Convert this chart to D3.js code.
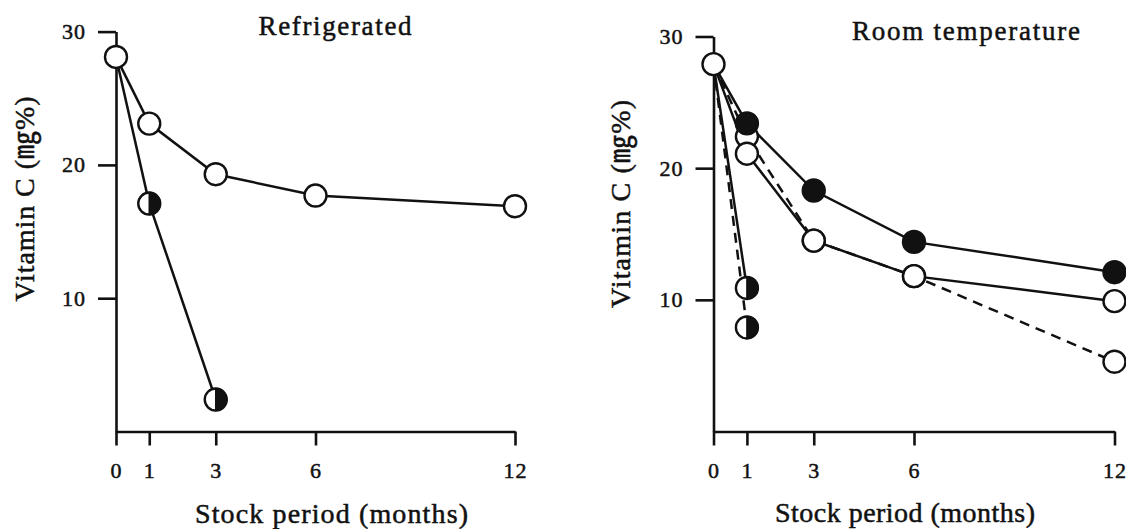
<!DOCTYPE html>
<html>
<head>
<meta charset="utf-8">
<script src="https://cdn.jsdelivr.net/npm/d3@7"></script>
<style>
  body { margin: 0; background: #fff; }
  svg { display: block; }
  text { font-family: "Liberation Serif", "Noto Sans CJK JP", serif; fill: #111; stroke: #111; stroke-width: 0.5px; }
</style>
</head>
<body>
<svg id="chart" width="1126" height="529"></svg>
<script>
// Storage months and axis ticks
const months = [0, 1, 3, 6, 12];
const monthTicks = [0, 1, 3, 6, 12];
const vitaminTicks = [10, 20, 30];

// Refrigerated storage (mg%)
const refrigOpen = [28.1, 23.1, 19.3, 17.7, 16.9];
const refrigHalfMonths = [0, 1, 3];
const refrigHalf = [28.1, 17.1, 2.4];

// Room-temperature storage (mg%)
const roomFilled = [27.9, 23.4, 18.3, 14.4, 12.1];
const roomOpen = [27.9, 21.1, 14.5, 11.8, 9.9];
const roomOpenDashed = [27.9, 22.4, 14.5, 11.8, 5.3];
const roomHalfMonths = [0, 1];
const roomHalf = [27.9, 10.9];
const roomHalfDashed = [27.9, 7.9];

const panelTitles = ["Refrigerated", "Room temperature"];
const xTitle = "Stock period (months)";
const yTitle = "Vitamin C (㎎%)";

const svg = d3.select("#chart");
const R = 11;

const panels = [
  {
    title: panelTitles[0],
    xr: [116, 515], yr: [431.5, 31.6],
    titlePos: [335, 35, 153],
    xLabelPos: [331.5, 523, 273],
    yLabelPos: [24, 199, 205],
    series: [
      { m: months, v: refrigOpen, marker: "open", dashed: false },
      { m: refrigHalfMonths, v: refrigHalf, marker: "half", dashed: false }
    ]
  },
  {
    title: panelTitles[1],
    xr: [713.5, 1114.5], yr: [431.5, 36.5],
    titlePos: [966, 40, 228],
    xLabelPos: [905, 522, 260],
    yLabelPos: [620, 204, 208],
    series: [
      { m: roomHalfMonths, v: roomHalfDashed, marker: "half", dashed: true },
      { m: months, v: roomOpenDashed, marker: "open", dashed: true },
      { m: roomHalfMonths, v: roomHalf, marker: "half", dashed: false },
      { m: months, v: roomOpen, marker: "open", dashed: false },
      { m: months, v: roomFilled, marker: "filled", dashed: false }
    ]
  }
];

function drawMarker(g, cx, cy, type) {
  const mk = g.append("g").attr("transform", `translate(${cx},${cy})`);
  mk.append("circle")
    .attr("r", R)
    .attr("fill", type === "filled" ? "#111" : "#fff")
    .attr("stroke", "#111")
    .attr("stroke-width", 2.4);
  if (type === "half") {
    mk.append("path")
      .attr("d", `M0,${-R} A${R},${R} 0 0 1 0,${R} Z`)
      .attr("fill", "#111")
      .attr("stroke", "#111")
      .attr("stroke-width", 1.5);
  }
}

panels.forEach(p => {
  const x = d3.scaleLinear().domain([0, 12]).range(p.xr);
  const y = d3.scaleLinear().domain([0, 30]).range(p.yr);
  const g = svg.append("g");

  // axes
  const xAxis = g.append("g")
    .attr("transform", `translate(0,${y(0)})`)
    .call(d3.axisBottom(x).tickValues(monthTicks).tickSize(14).tickSizeOuter(0).tickPadding(17));
  const yAxis = g.append("g")
    .attr("transform", `translate(${x(0)},0)`)
    .call(d3.axisLeft(y).tickValues(vitaminTicks).tickSize(18).tickSizeOuter(0).tickPadding(12));
  [xAxis, yAxis].forEach(a => {
    a.select(".domain").attr("stroke", "#111").attr("stroke-width", 2.6);
    a.selectAll(".tick line").attr("stroke", "#111").attr("stroke-width", 2.6);
    a.selectAll(".tick text")
      .attr("fill", "#111")
      .style("font-family", '"Liberation Serif", serif')
      .style("font-size", "22px")
      .style("letter-spacing", "1px");
  });

  // series lines
  const line = d3.line().x(d => x(d[0])).y(d => y(d[1]));
  p.series.forEach(s => {
    const pts = s.m.map((m, i) => [m, s.v[i]]);
    g.append("path")
      .attr("d", line(pts))
      .attr("fill", "none")
      .attr("stroke", "#111")
      .attr("stroke-width", 2.5)
      .attr("stroke-dasharray", s.dashed ? "10,7" : null);
  });

  // markers (the shared month-0 point is drawn once, last)
  p.series.forEach(s => {
    s.m.forEach((m, i) => {
      if (m === 0) return;
      drawMarker(g, x(m), y(s.v[i]), s.marker);
    });
  });
  const s0 = p.series[p.series.length - 1];
  drawMarker(g, x(0), y(s0.v[0]), "open");

  // titles
  g.append("text")
    .attr("x", p.titlePos[0]).attr("y", p.titlePos[1])
    .attr("text-anchor", "middle")
    .attr("textLength", p.titlePos[2]).attr("lengthAdjust", "spacing")
    .style("font-size", "27px")
    .text(p.title);
  g.append("text")
    .attr("x", p.xLabelPos[0]).attr("y", p.xLabelPos[1])
    .attr("text-anchor", "middle")
    .attr("textLength", p.xLabelPos[2]).attr("lengthAdjust", "spacing")
    .style("font-size", "28px")
    .text(xTitle);
  g.append("text")
    .attr("transform", `translate(${p.yLabelPos[0]},${p.yLabelPos[1]}) rotate(-90)`)
    .attr("text-anchor", "middle")
    .attr("dy", "0.35em")
    .attr("textLength", p.yLabelPos[2]).attr("lengthAdjust", "spacing")
    .style("font-size", "28px")
    .text(yTitle);
});
</script>
</body>
</html>
